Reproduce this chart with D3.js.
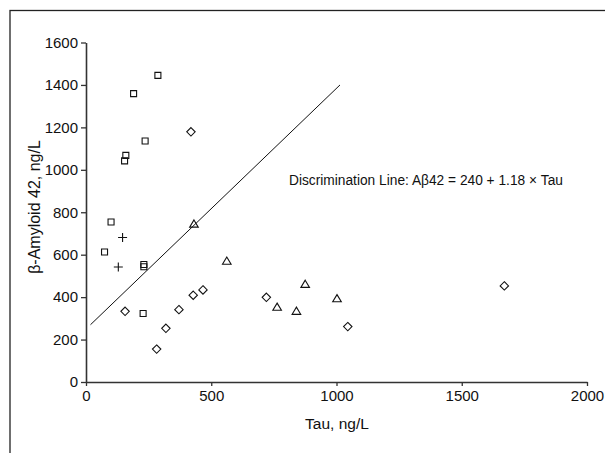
<!doctype html>
<html>
<head>
<meta charset="utf-8">
<title>Tau vs Abeta42</title>
<script src="https://cdn.jsdelivr.net/npm/d3@7"></script>
<style>
  body { margin: 0; background: #fff; }
  svg text { font-family: "Liberation Sans", Arial, sans-serif; fill: #111; }
</style>
</head>
<body>
<svg width="605" height="453"></svg>
<script>
// groups: [tau, abeta42]
var squareTau = [287, 190, 236, 159, 154, 100, 74, 231, 231, 228];
var squareAb  = [1445, 1359, 1136, 1068, 1042, 754, 613, 554, 543, 323];
var plusTau = [146, 129];
var plusAb  = [681, 542];
var diamondTau = [419, 156, 282, 319, 371, 428, 467, 720, 1045, 1670];
var diamondAb  = [1179, 333, 155, 253, 341, 409, 434, 399, 261, 453];
var triangleTau = [431, 562, 763, 840, 875, 1002];
var triangleAb  = [745, 570, 353, 334, 461, 393];
// discrimination line end points
var lineTau = [18, 1014];
var lineAb = [270, 1400];
var xTicks = [0, 500, 1000, 1500, 2000];
var yTicks = [0, 200, 400, 600, 800, 1000, 1200, 1400, 1600];

var svg = d3.select("svg");

// outer frame (only top and left show)
svg.append("rect")
    .attr("x", 10).attr("y", 10.5)
    .attr("width", 620).attr("height", 460)
    .attr("fill", "none").attr("stroke", "#222").attr("stroke-width", 1.3);

var x = d3.scaleLinear().domain([0, 2000]).range([86, 587]);
var y = d3.scaleLinear().domain([0, 1600]).range([382, 42.5]);

var xAxis = svg.append("g")
    .attr("transform", "translate(0,382)")
    .call(d3.axisBottom(x).tickValues(xTicks).tickFormat(d3.format("d"))
        .tickSize(4).tickSizeOuter(0).tickPadding(4));
var yAxis = svg.append("g")
    .attr("transform", "translate(86,0)")
    .call(d3.axisLeft(y).tickValues(yTicks).tickFormat(d3.format("d"))
        .tickSize(5).tickSizeOuter(0).tickPadding(3));
[xAxis, yAxis].forEach(function (g) {
    g.select(".domain").attr("stroke", "#333").attr("stroke-width", 1.6);
    g.selectAll(".tick line").attr("stroke", "#333").attr("stroke-width", 1.3);
    g.selectAll(".tick text").attr("fill", "#111").style("font-size", "15px")
        .style("font-family", "'Liberation Sans', Arial, sans-serif");
});

// axis titles
svg.append("text")
    .attr("x", 337).attr("y", 429)
    .attr("text-anchor", "middle")
    .style("font-size", "15.5px")
    .text("Tau, ng/L");
svg.append("text")
    .attr("transform", "translate(40,207) rotate(-90)")
    .attr("text-anchor", "middle")
    .style("font-size", "16px")
    .text("β-Amyloid 42, ng/L");

// discrimination line
svg.append("line")
    .attr("x1", x(lineTau[0])).attr("y1", y(lineAb[0]))
    .attr("x2", x(lineTau[1])).attr("y2", y(lineAb[1]))
    .attr("stroke", "#111").attr("stroke-width", 1);

svg.append("text")
    .attr("x", 289).attr("y", 185)
    .attr("textLength", 274)
    .attr("lengthAdjust", "spacingAndGlyphs")
    .style("font-size", "15.5px")
    .text("Discrimination Line: Aβ42 = 240 + 1.18 × Tau");

// marker shapes
var squareSym = { draw: function (c) { c.rect(-3, -3, 6, 6); } };
var diamondSym = { draw: function (c) {
    c.moveTo(0, -4.2); c.lineTo(4.2, 0); c.lineTo(0, 4.2); c.lineTo(-4.2, 0); c.closePath();
} };
var triangleSym = { draw: function (c) {
    c.moveTo(0, -4); c.lineTo(4.3, 3.2); c.lineTo(-4.3, 3.2); c.closePath();
} };
var plusSym = { draw: function (c) {
    c.moveTo(-4.5, 0); c.lineTo(4.5, 0); c.moveTo(0, -4.5); c.lineTo(0, 4.5);
} };

function drawGroup(taus, abs, sym) {
    svg.append("g").selectAll("path")
        .data(taus)
        .enter().append("path")
        .attr("transform", function (d, i) { return "translate(" + x(d) + "," + y(abs[i]) + ")"; })
        .attr("d", d3.symbol(sym))
        .attr("fill", "none")
        .attr("stroke", "#111")
        .attr("stroke-width", 1.1);
}
drawGroup(squareTau, squareAb, squareSym);
drawGroup(plusTau, plusAb, plusSym);
drawGroup(diamondTau, diamondAb, diamondSym);
drawGroup(triangleTau, triangleAb, triangleSym);
</script>
</body>
</html>
